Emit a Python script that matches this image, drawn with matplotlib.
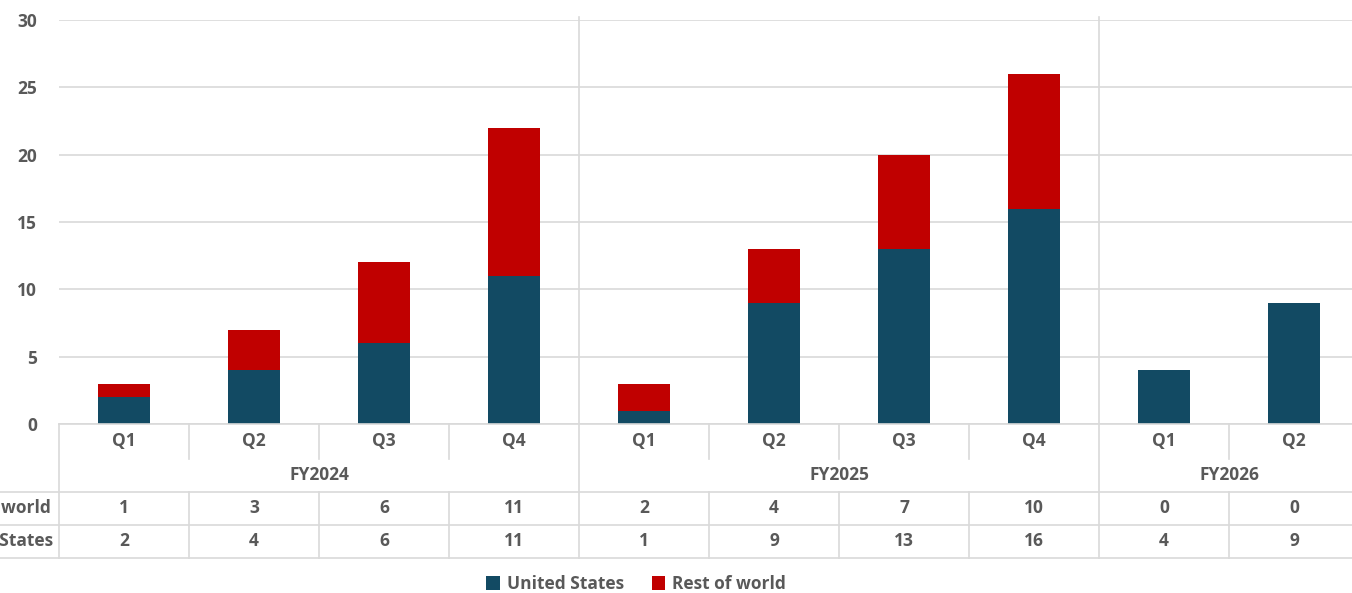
import matplotlib
matplotlib.use("Agg")
import matplotlib.pyplot as plt
from matplotlib.lines import Line2D
from matplotlib.patches import Patch
import matplotlib.transforms as mtransforms

quarters = ["Q1", "Q2", "Q3", "Q4", "Q1", "Q2", "Q3", "Q4", "Q1", "Q2"]
years = ["FY2024", "FY2025", "FY2026"]
year_sizes = [4, 4, 2]
united_states = [2, 4, 6, 11, 1, 9, 13, 16, 4, 9]
rest_of_world = [1, 3, 6, 11, 2, 4, 7, 10, 0, 0]
series_names = ["United States", "Rest of world"]
yticks = [0, 5, 10, 15, 20, 25, 30]

US_COLOR = "#124A63"
ROW_COLOR = "#C00000"
TEXT = "#595959"
GRID = "#D9D9D9"
FONT = ["Open Sans", "DejaVu Sans"]
FS = 12.5

W, H = 1352, 593
fig = plt.figure(figsize=(W / 100, H / 100), dpi=100)
plt.rcParams["font.family"] = FONT

def fx(p):
    return p / W

def fy(p):
    return 1 - p / H

slot = 130.0
left_px = 59
ax_bottom_px = 424
ax_top_px = 20
n = len(quarters)
ax = fig.add_axes([fx(left_px), fy(ax_bottom_px), fx(slot * n), (ax_bottom_px - ax_top_px) / H])
ax.set_xlim(-0.5, n - 0.5)
ax.set_ylim(0, 30)

x = list(range(n))
ax.bar(x, united_states, width=0.4, color=US_COLOR, zorder=3)
ax.bar(x, rest_of_world, width=0.4, bottom=united_states, color=ROW_COLOR, zorder=3)

ax.set_yticks(yticks)
ax.yaxis.grid(True, color=GRID, linewidth=1.2, zorder=0)
ax.tick_params(axis="y", length=0, pad=16, labelsize=FS, labelcolor=TEXT)
for lab in ax.get_yticklabels():
    lab.set_fontweight("bold")
ax.set_xticks([])
for s in ax.spines.values():
    s.set_visible(False)

trans = mtransforms.blended_transform_factory(ax.transData, fig.transFigure)
lkw = dict(color=GRID, linewidth=1.2, clip_on=False)

# axis line and table horizontal lines
fig.add_artist(Line2D([-0.5, n - 0.5], [fy(424), fy(424)], transform=trans, **lkw))
for yp in (492, 525, 558):
    fig.add_artist(Line2D([fx(0), 1], [fy(yp), fy(yp)], transform=fig.transFigure, **lkw))

# vertical lines
fig.add_artist(Line2D([-0.5, -0.5], [fy(424), fy(558)], transform=trans, **lkw))
boundaries = []
acc = 0
for sz in year_sizes:
    acc += sz
    boundaries.append(acc - 0.5)
for i in range(n - 1):
    xb = i + 0.5
    if xb in boundaries:
        fig.add_artist(Line2D([xb, xb], [fy(17), fy(558)], transform=trans, **lkw))
    else:
        fig.add_artist(Line2D([xb, xb], [fy(424), fy(459)], transform=trans, **lkw))
        fig.add_artist(Line2D([xb, xb], [fy(492), fy(558)], transform=trans, **lkw))

tkw = dict(transform=trans, ha="center", va="center", fontsize=FS,
           color=TEXT, fontweight="bold")
for i, q in enumerate(quarters):
    fig.text(i, fy(441), q, **tkw)
    fig.text(i, fy(508), str(rest_of_world[i]), **tkw)
    fig.text(i, fy(541), str(united_states[i]), **tkw)
start = 0
for yname, sz in zip(years, year_sizes):
    fig.text(start + (sz - 1) / 2, fy(475), yname, **tkw)
    start += sz

rkw = dict(ha="right", va="center", fontsize=FS, color=TEXT, fontweight="bold")
fig.text(fx(51), fy(508), series_names[1], **rkw)
fig.text(fx(53), fy(541), series_names[0], **rkw)

handles = [Patch(facecolor=US_COLOR), Patch(facecolor=ROW_COLOR)]
leg = fig.legend(handles, series_names, loc="center", bbox_to_anchor=(fx(636), fy(584)),
                 ncol=2, frameon=False, handlelength=0.8, handleheight=0.8,
                 handletextpad=0.4, columnspacing=1.6,
                 prop={"size": FS, "weight": "bold", "family": FONT})
for t in leg.get_texts():
    t.set_color(TEXT)

fig.savefig("out.png", dpi=100)
